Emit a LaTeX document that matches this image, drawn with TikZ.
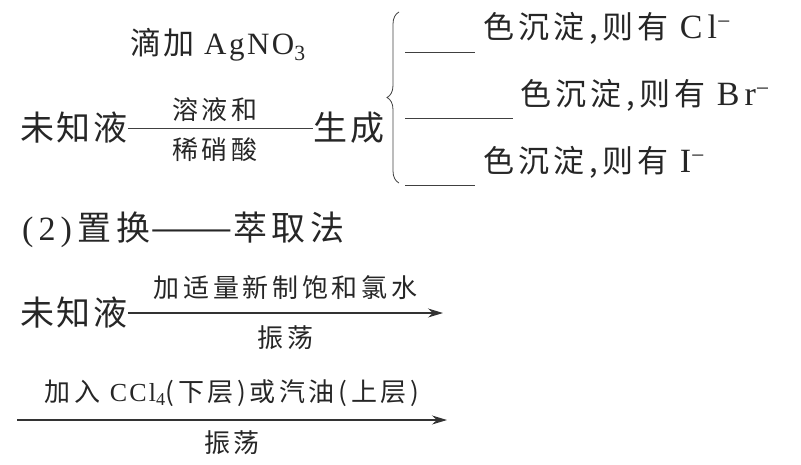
\documentclass[tikz,border=0pt]{standalone}
\usepackage{fontspec}
\setmainfont{Liberation Serif}
\newfontfamily\cjk[LetterSpace=8]{Noto Sans CJK SC}
\newfontfamily\cjkw[LetterSpace=14]{Noto Sans CJK SC}
\newfontfamily\lat[LetterSpace=8]{Liberation Serif}
\newfontfamily\latw[LetterSpace=15]{Liberation Serif}
\newcommand\ion[1]{{\latw\fontsize{34}{36}\selectfont #1}}
\usetikzlibrary{arrows.meta, positioning, decorations.pathreplacing}

\begin{document}
\begin{tikzpicture}[x=1pt, y=-1pt,
    every node/.style={inner sep=0pt, text=black!85},
    big/.style={font=\fontsize{34}{36}\selectfont\cjk},
    ttl/.style={font=\fontsize{34}{36}\selectfont\cjkw},
    mid/.style={font=\fontsize{31}{33}\selectfont\cjkw},
    lbl/.style={font=\fontsize{26}{28}\selectfont\cjkw},
    line/.style={line width=1pt, black!75},
    arr/.style={line width=1.1pt, black!80, -{Stealth[length=15pt, width=9pt]}},
]
\useasboundingbox (0,0) rectangle (801,464);

% === (1) precipitation test ===
\node[big] (unk1) at (74,128) {未知液};
\node[big] (gen) at (349,128) {生成};
\node[mid, font=\fontsize{31}{33}\selectfont\cjk] (addag) at (218,45) {滴加 {\lat AgNO\textsubscript{3}}};

\draw[line] (unk1) -- (gen)
    node[midway, lbl, xshift=-6pt, yshift=18pt] (sol) {溶液和}
    node[midway, lbl, xshift=-6pt, yshift=-22pt] (hno) {稀硝酸};

% brace
\coordinate (brbot) at (399,183);
\coordinate (brtop) at (399,12);
\draw[decorate, decoration={brace, amplitude=12pt}, line width=0.8pt, black!75]
    (brbot) -- (brtop);

% results
\node[mid, anchor=west] (cl) at (483,28) {色沉淀,则有 \ion{Cl\textsuperscript{−}}};
\node[mid, anchor=west] (br) at (520,95) {色沉淀,则有 \ion{Br\textsuperscript{−}}};
\node[mid, anchor=west] (io) at (483,162) {色沉淀,则有 \ion{I\textsuperscript{−}}};

% blanks
\draw[line] (405,52) -- (475,52);
\draw[line] (405,118) -- (513,118);
\draw[line] (405,185) -- (475,185);

% === (2) displacement / extraction ===
\node[ttl, anchor=west] (title) at (22,230)
    {{\latw (2)}\,置换\scalebox{1.45}[1]{——}萃取法};

\node[big] (unk2) at (74,313) {未知液};
\coordinate (e1) at (443,313);
\draw[arr] (unk2) -- (e1)
    node[midway, lbl, yshift=25pt] (cl2) {加适量新制饱和氯水}
    node[midway, lbl, yshift=-25pt] (sh1) {振荡};

\coordinate (s2) at (17,420);
\coordinate (e2) at (447,420);
\draw[arr] (s2) -- (e2)
    node[midway, lbl, yshift=27pt] (ccl) {加入 {\lat CCl\textsubscript{4}}(下层)或汽油(上层)}
    node[midway, lbl, yshift=-23pt] (sh2) {振荡};

\end{tikzpicture}
\end{document}
